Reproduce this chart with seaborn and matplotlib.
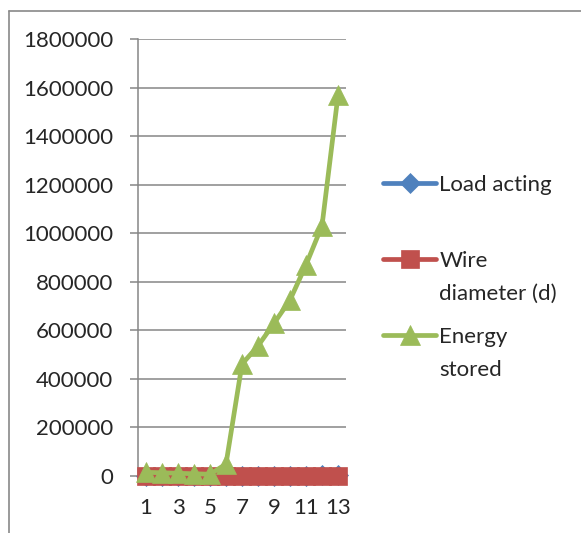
import numpy as np
import pandas as pd
import matplotlib.pyplot as plt
import seaborn as sns
from matplotlib.lines import Line2D
from matplotlib.ticker import StrMethodFormatter

sns.set_style('white')
plt.rcParams['font.family'] = ['Lato', 'DejaVu Sans']

# data
x_vals = [1, 2, 3, 4, 5, 6, 7, 8, 9, 10, 11, 12, 13]
load_acting = [300, 350, 400, 450, 500, 550, 600, 650, 700, 750, 800, 850, 900]
wire_diameter = [2, 2.5, 3, 3.5, 4, 4.5, 5, 5.5, 6, 6.5, 7, 7.5, 8]
energy_stored = [14000, 12000, 10000, 8000, 6000, 48000, 460000, 535000,
                 628000, 724000, 869000, 1030000, 1568000]

series_names = ['Load acting', 'Wire diameter (d)', 'Energy stored']
legend_labels = ['Load acting\n', 'Wire\ndiameter (d)', 'Energy\nstored']
series_colors = ['#4F81BD', '#C0504D', '#9BBB59']
series_markers = ['D', 's', '^']
marker_sizes = [10, 13.5, 14]

df = pd.DataFrame({
    'x': x_vals * 3,
    'value': load_acting + wire_diameter + energy_stored,
    'series': np.repeat(series_names, len(x_vals)),
})

grid_grey = '#868686'

fig = plt.figure(figsize=(5.81, 5.33), dpi=100)
ax = fig.add_axes([138 / 581, 1 - 475.7 / 533, 208 / 581, (475.7 - 39) / 533])

for i, name in enumerate(series_names):
    sns.lineplot(data=df[df['series'] == name], x='x', y='value',
                 color=series_colors[i], marker=series_markers[i],
                 markersize=marker_sizes[i], markeredgecolor=series_colors[i],
                 markeredgewidth=0.5, linewidth=3.4, label=legend_labels[i],
                 clip_on=False, zorder=3 + i, ax=ax)

ax.set_xlim(0.5, 13.5)
ax.set_ylim(0, 1800000)
ax.set_xticks(x_vals[::2])
ax.set_yticks(np.arange(0, 1800001, 200000))
ax.yaxis.set_major_formatter(StrMethodFormatter('{x:.0f}'))
ax.set_xlabel('')
ax.set_ylabel('')

ax.grid(axis='y', color=grid_grey, linewidth=1.1)
ax.grid(axis='x', visible=False)
for side in ['top', 'right']:
    ax.spines[side].set_visible(False)
for side in ['left', 'bottom']:
    ax.spines[side].set_color(grid_grey)
    ax.spines[side].set_linewidth(1.1)

ax.tick_params(axis='y', direction='out', length=5.8, width=1.1, color=grid_grey,
               pad=12, labelsize=16, left=True)
ax.tick_params(axis='x', length=0, pad=16, labelsize=16)

handles, labels = ax.get_legend_handles_labels()
ax.get_legend().remove()
leg = fig.legend(handles, labels, loc='upper left',
                 bbox_to_anchor=(383 / 581, 1 - 175 / 533), frameon=False,
                 fontsize=16, handlelength=2.4, handletextpad=0.13,
                 labelspacing=1.05, borderpad=0, borderaxespad=0)
for t in leg.get_texts():
    t.set_linespacing(1.8)
# put each legend line next to the first line of its label
for col in leg._legend_handle_box.get_children():
    for item in col.get_children():
        item.align = 'top'

# chart area border (cut off on the right and bottom)
fig.add_artist(Line2D([9 / 581, 9 / 581], [0, 1 - 11 / 533], color='#898989',
                      linewidth=1.2, transform=fig.transFigure))
fig.add_artist(Line2D([9 / 581, 1], [1 - 11 / 533, 1 - 11 / 533], color='#898989',
                      linewidth=1.2, transform=fig.transFigure))

fig.savefig('out.png', dpi=100)
